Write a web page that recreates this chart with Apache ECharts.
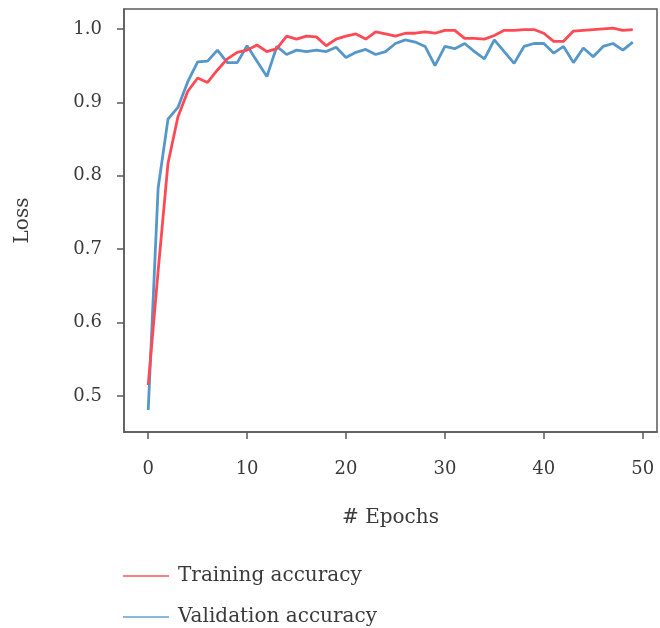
<!DOCTYPE html>
<html>
<head>
<meta charset="utf-8">
<script src="https://cdn.jsdelivr.net/npm/echarts@6/dist/echarts.min.js"></script>
<style>html,body{margin:0;padding:0;background:#fff}#c{width:660px;height:628px}</style>
</head>
<body>
<div id="c"></div>
<script>
const epochs = Array.from({length: 50}, (_, i) => i);
const trainingAccuracy = [
  0.515, 0.670, 0.817, 0.880, 0.915, 0.933, 0.927, 0.944, 0.959, 0.968,
  0.971, 0.978, 0.969, 0.973, 0.990, 0.986, 0.990, 0.989, 0.977, 0.986,
  0.990, 0.993, 0.986, 0.996, 0.993, 0.990, 0.994, 0.994, 0.996, 0.994,
  0.998, 0.998, 0.987, 0.987, 0.986, 0.991, 0.998, 0.998, 0.999, 0.999,
  0.994, 0.983, 0.983, 0.997, 0.998, 0.999, 1.000, 1.001, 0.998, 0.999
];
const validationAccuracy = [
  0.481, 0.783, 0.877, 0.893, 0.928, 0.955, 0.956, 0.971, 0.954, 0.954,
  0.977, 0.956, 0.935, 0.976, 0.965, 0.971, 0.969, 0.971, 0.969, 0.975,
  0.961, 0.968, 0.972, 0.965, 0.969, 0.980, 0.985, 0.982, 0.976, 0.950,
  0.976, 0.973, 0.980, 0.969, 0.959, 0.985, 0.969, 0.953, 0.976, 0.980,
  0.980, 0.967, 0.976, 0.954, 0.974, 0.962, 0.976, 0.980, 0.971, 0.982
];
const xTicks = [0, 10, 20, 30, 40, 50];
const yTicks = [0.5, 0.6, 0.7, 0.8, 0.9, 1.0];
const seriesNames = ['Training accuracy', 'Validation accuracy'];

const font = 'DejaVu Serif';
const textColor = '#3a3a3a';
const axisColor = '#5a5a5a';
const colors = ['#ff4a55', '#5597c8'];
const legendColors = ['#ff7c84', '#88b8dc'];

function legendFor(i, top) {
  return {
    left: 118, top: top, itemWidth: 46, itemHeight: 2, itemGap: 0,
    icon: 'rect',
    textStyle: {fontFamily: font, fontSize: 20, color: textColor, padding: [0, 0, 0, 4]},
    data: [{name: seriesNames[i], itemStyle: {color: legendColors[i]}}]
  };
}

const chart = echarts.init(document.getElementById('c'), null, {renderer: 'canvas'});
chart.setOption({
  animation: false,
  backgroundColor: '#fff',
  grid: {left: 124, right: 3, top: 9, bottom: 196, show: true, borderColor: axisColor, borderWidth: 1.5, containLabel: false},
  legend: [legendFor(0, 561), legendFor(1, 602)],
  xAxis: {
    type: 'value', min: -2.45, max: 51.45,
    name: '# Epochs', nameLocation: 'middle', nameGap: 76,
    nameTextStyle: {fontFamily: font, fontSize: 20, color: textColor},
    axisLine: {show: true, onZero: false, lineStyle: {color: axisColor, width: 1.5}},
    axisTick: {show: true, inside: false, length: 7, customValues: xTicks, lineStyle: {color: axisColor, width: 1.5}},
    axisLabel: {customValues: xTicks, margin: 28, fontFamily: font, fontSize: 18, color: textColor},
    splitLine: {show: false}
  },
  yAxis: {
    type: 'value', min: 0.451, max: 1.027,
    name: 'Loss', nameLocation: 'middle', nameGap: 91, nameRotate: 90,
    nameTextStyle: {fontFamily: font, fontSize: 20, color: textColor},
    axisLine: {show: true, onZero: false, lineStyle: {color: axisColor, width: 1.5}},
    axisTick: {show: true, inside: false, length: 7, customValues: yTicks, lineStyle: {color: axisColor, width: 1.5}},
    axisLabel: {customValues: yTicks, margin: 22, fontFamily: font, fontSize: 18, color: textColor,
      formatter: v => v.toFixed(1)},
    splitLine: {show: false}
  },
  series: [
    {name: seriesNames[0], type: 'line', symbol: 'none', z: 3,
     data: epochs.map((e, i) => [e, trainingAccuracy[i]]),
     itemStyle: {color: colors[0]}, lineStyle: {color: colors[0], width: 2.8}},
    {name: seriesNames[1], type: 'line', symbol: 'none', z: 2,
     data: epochs.map((e, i) => [e, validationAccuracy[i]]),
     itemStyle: {color: colors[1]}, lineStyle: {color: colors[1], width: 2.8}}
  ]
});
</script>
</body>
</html>
